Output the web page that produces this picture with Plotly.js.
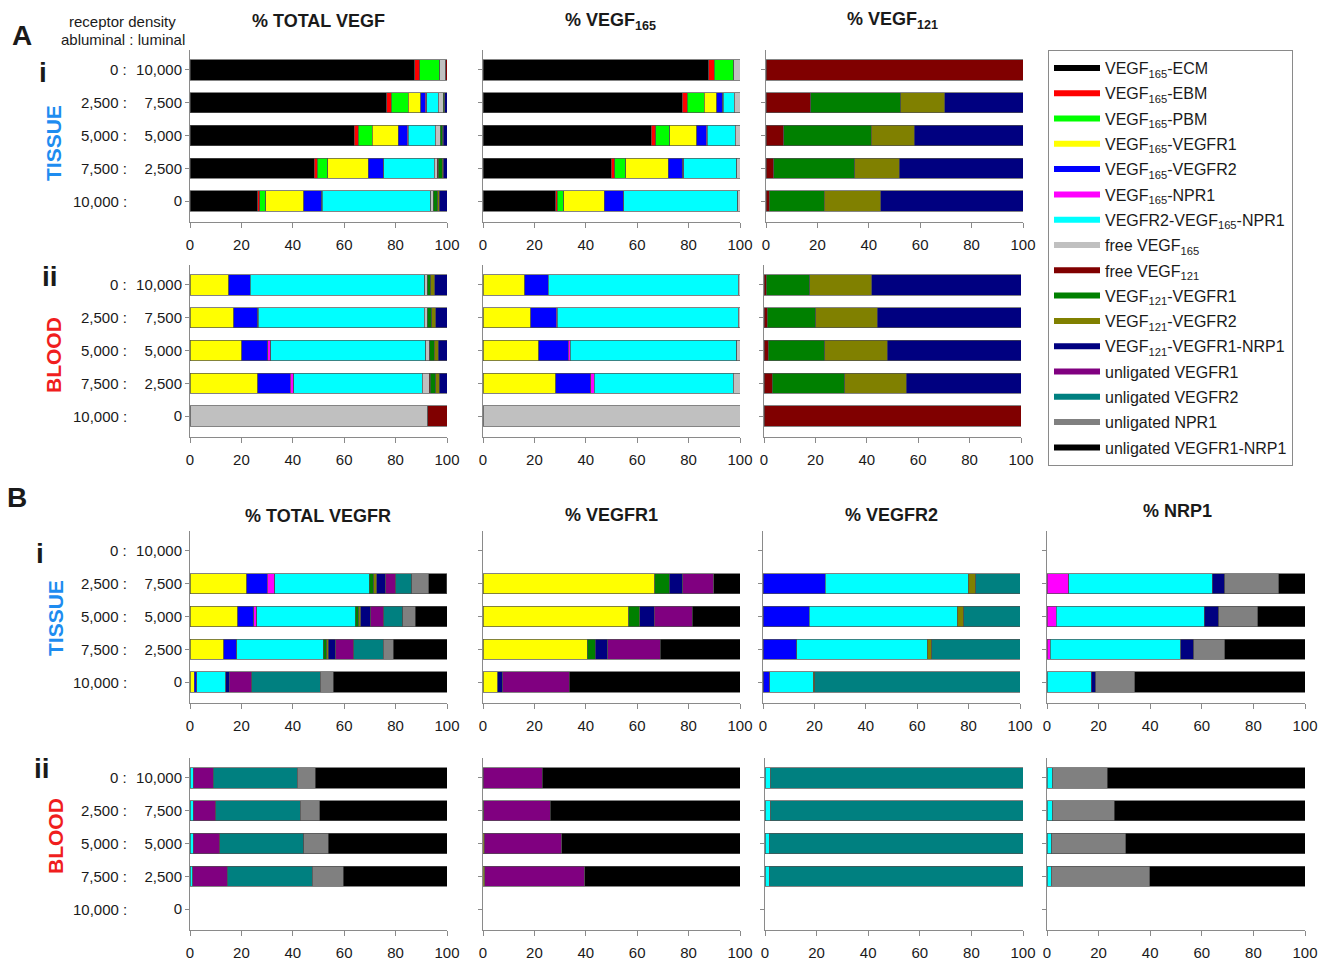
<!DOCTYPE html>
<html><head><meta charset="utf-8">
<script src="https://cdn.plot.ly/plotly-3.0.1.min.js"></script>
<style>html,body{margin:0;padding:0;background:#fff}#chart{width:1331px;height:963px}</style>
</head><body><div id="chart"></div>
<script>
// ---------- categories / tick labels ----------
const CATS = ['0 : 10,000','2,500 : 7,500','5,000 : 5,000','7,500 : 2,500','10,000 : 0'];
const ABLUMINAL = ['0','2,500','5,000','7,500','10,000'];
const LUMINAL = ['10,000','7,500','5,000','2,500','0'];
const XTICKS = [0,20,40,60,80,100];

// ---------- components (legend order) ----------
const COMP_KEYS = ['ECM','EBM','PBM','R1','R2','NPR1','CX','F165','F121','R1_121','R2_121','RN_121','uR1','uR2','uNPR1','uRN'];
const COMP_NAMES = ['VEGF<sub>165</sub>-ECM','VEGF<sub>165</sub>-EBM','VEGF<sub>165</sub>-PBM','VEGF<sub>165</sub>-VEGFR1','VEGF<sub>165</sub>-VEGFR2','VEGF<sub>165</sub>-NPR1','VEGFR2-VEGF<sub>165</sub>-NPR1','free VEGF<sub>165</sub>','free VEGF<sub>121</sub>','VEGF<sub>121</sub>-VEGFR1','VEGF<sub>121</sub>-VEGFR2','VEGF<sub>121</sub>-VEGFR1-NRP1','unligated VEGFR1','unligated VEGFR2','unligated NPR1','unligated VEGFR1-NRP1'];
const COMP_COLORS = ['#000000','#ff0000','#00ff00','#ffff00','#0000ff','#ff00ff','#00ffff','#c0c0c0','#800000','#008000','#808000','#000080','#800080','#008080','#808080','#000000'];

// ---------- A-i TISSUE ----------
const aTisTotKeys = ['ECM','EBM','PBM','R1','R2','NPR1','CX','F165','F121','R1_121','R2_121','RN_121'];
const aTisTotVals = [
  [87.5,76.5,63.9,48.4,26.3],
  [1.9,1.9,1.6,1.2,0.9],
  [7.8,6.5,5.4,4.0,2.2],
  [0,4.8,10.2,15.7,14.9],
  [0,1.9,3.5,5.8,6.9],
  [0,0.6,0.4,0.3,0.2],
  [0,4.3,10.5,19.7,42.3],
  [2.4,2.1,1.9,1.2,0.9],
  [0.4,0,0,0.2,0.1],
  [0,0.3,0.9,1.7,1.7],
  [0,0.2,0.2,0.4,0.6],
  [0,0.9,1.5,1.4,3.0]
];
const aTis165Keys = ['ECM','EBM','PBM','R1','R2','NPR1','CX','F165'];
const aTis165Vals = [
  [87.8,77.6,65.5,49.9,28.3],
  [2.1,1.8,1.7,1.3,0.6],
  [7.7,6.6,5.4,4.3,2.6],
  [0,4.9,10.5,16.5,15.6],
  [0,2.3,3.8,5.8,7.4],
  [0,0.3,0.4,0.3,0.2],
  [0,4.2,10.9,20.6,44.5],
  [2.4,2.3,1.8,1.3,0.8]
];
const aTis121Keys = ['F121','R1_121','R2_121','RN_121'];
const aTis121Vals = [
  [100,17.5,7.0,3.1,1.3],
  [0,35.0,33.9,31.5,21.4],
  [0,17.1,16.7,17.3,22.0],
  [0,30.4,42.4,48.1,55.3]
];
// ---------- A-ii BLOOD ----------
const aBldTotKeys = ['R1','R2','NPR1','CX','F165','F121','R1_121','R2_121','RN_121'];
const aBldTotVals = [
  [15.0,17.0,20.2,26.3,0],
  [8.4,9.3,10.0,12.7,0],
  [0,0.3,1.2,1.3,0],
  [68.0,64.6,60.3,50.1,0],
  [0.9,1.2,1.3,2.7,92.5],
  [0,0,0.2,0.3,7.5],
  [1.3,1.7,1.9,2.2,0],
  [1.7,1.6,1.4,1.4,0],
  [4.7,4.3,3.5,3.0,0]
];
const aBld165Keys = ['R1','R2','NPR1','CX','F165'];
const aBld165Vals = [
  [16.3,18.5,21.7,28.3,0],
  [9.1,10.0,11.4,13.6,0],
  [0,0.3,0.8,1.3,0],
  [74.0,70.5,64.9,54.1,0],
  [0.6,0.7,1.2,2.7,100]
];
const aBld121Keys = ['F121','R1_121','R2_121','RN_121'];
const aBld121Vals = [
  [0.9,1.3,1.7,3.2,100],
  [16.9,18.8,21.9,28.3,0],
  [24.1,24.0,24.4,23.9,0],
  [58.1,55.9,52.0,44.6,0]
];
// ---------- B-i TISSUE ----------
const bTisTotKeys = ['R1','R2','NPR1','CX','R1_121','R2_121','RN_121','uR1','uR2','uNPR1','uRN'];
const bTisTotVals = [
  [0,22.0,18.5,13.2,1.6],
  [0,8.0,6.4,4.7,1.0],
  [0,3.0,1.0,0.3,0],
  [0,36.7,38.4,33.7,11.3],
  [0,1.7,1.3,1.3,0],
  [0,1.3,0.9,0.6,0],
  [0,3.5,3.8,3.0,1.4],
  [0,3.9,5.1,7.0,8.8],
  [0,6.1,7.4,11.4,26.5],
  [0,6.7,4.8,3.9,5.2],
  [0,7.0,12.5,20.9,44.2]
];
const bTisR1Keys = ['R1','R1_121','RN_121','uR1','uRN'];
const bTisR1Vals = [
  [0,66.8,56.8,40.6,5.8],
  [0,5.6,4.2,3.1,0],
  [0,5.4,5.6,4.9,1.9],
  [0,11.9,14.9,20.4,25.9],
  [0,10.3,18.5,31.0,66.4]
];
const bTisR2Keys = ['R2','CX','R2_121','uR2'];
const bTisR2Vals = [
  [0,24.3,17.9,13.2,2.6],
  [0,55.5,57.7,50.7,16.9],
  [0,2.9,2.5,1.8,0.6],
  [0,17.3,21.9,34.3,79.9]
];
const bTisNKeys = ['NPR1','CX','RN_121','uNPR1','uRN'];
const bTisNVals = [
  [0,8.4,3.5,1.3,0],
  [0,55.6,57.5,50.5,17.2],
  [0,4.9,5.6,5.0,1.6],
  [0,20.9,15.0,12.1,15.2],
  [0,10.2,18.4,31.1,66.0]
];
// ---------- B-ii BLOOD ----------
const bBldTotKeys = ['CX','uR1','uR2','uNPR1','uRN'];
const bBldTotVals = [
  [1.2,1.2,1.2,1.1,0],
  [7.9,8.9,10.3,13.4,0],
  [32.7,32.7,32.7,33.0,0],
  [7.0,7.6,9.5,12.2,0],
  [51.2,49.6,46.3,40.3,0]
];
const bBldR1Keys = ['R1','uR1','uRN'];
const bBldR1Vals = [
  [0,0.3,0.4,0.6,0],
  [23.1,25.8,30.3,38.9,0],
  [76.9,73.9,69.3,60.5,0]
];
const bBldR2Keys = ['CX','uR2'];
const bBldR2Vals = [
  [2.2,2.2,1.9,1.8,0],
  [97.8,97.8,98.1,98.2,0]
];
const bBldNKeys = ['CX','uNPR1','uRN'];
const bBldNVals = [
  [2.2,2.2,1.8,1.6,0],
  [21.2,23.9,28.8,38.2,0],
  [76.6,73.9,69.4,60.2,0]
];

// ---------- layout helpers ----------
const W = 1331, H = 963;
const FONT = 'Liberation Sans, Arial, sans-serif';
const px = v => v / W;
const py = v => 1 - v / H;

const subplots = [
  {keys:aTisTotKeys, vals:aTisTotVals, xd:[190,447], yd:[222,50], lab:true},
  {keys:aTis165Keys, vals:aTis165Vals, xd:[483,740], yd:[222,50]},
  {keys:aTis121Keys, vals:aTis121Vals, xd:[766,1023], yd:[222,50]},
  {keys:aBldTotKeys, vals:aBldTotVals, xd:[190,447], yd:[437,265], lab:true},
  {keys:aBld165Keys, vals:aBld165Vals, xd:[483,740], yd:[437,265]},
  {keys:aBld121Keys, vals:aBld121Vals, xd:[764,1021], yd:[437,265]},
  {keys:bTisTotKeys, vals:bTisTotVals, xd:[190,447], yd:[703,531], lab:true},
  {keys:bTisR1Keys, vals:bTisR1Vals, xd:[483,740], yd:[703,531]},
  {keys:bTisR2Keys, vals:bTisR2Vals, xd:[763,1020], yd:[703,531]},
  {keys:bTisNKeys, vals:bTisNVals, xd:[1047,1305], yd:[703,531]},
  {keys:bBldTotKeys, vals:bBldTotVals, xd:[190,447], yd:[930,758], lab:true},
  {keys:bBldR1Keys, vals:bBldR1Vals, xd:[483,740], yd:[930,758]},
  {keys:bBldR2Keys, vals:bBldR2Vals, xd:[765,1023], yd:[930,758]},
  {keys:bBldNKeys, vals:bBldNVals, xd:[1047,1305], yd:[930,758]}
];

const traces = [];
const layout = {
  width: W, height: H,
  margin: {l:0, r:0, t:0, b:0},
  paper_bgcolor: '#fff', plot_bgcolor: '#fff',
  font: {family: FONT, size: 15, color: '#1a1a1a'},
  barmode: 'stack', bargap: 0.38,
  showlegend: true,
  legend: {x: px(1048), y: py(50), xanchor: 'left', yanchor: 'top',
           bordercolor: '#8a8a8a', borderwidth: 1, bgcolor: '#fff',
           font: {family: FONT, size: 16, color: '#1a1a1a'}, itemwidth: 46,
           traceorder: 'grouped', tracegroupgap: 1.5},
  annotations: []
};

subplots.forEach((sp, i) => {
  const n = i + 1;
  const xa = n === 1 ? 'x' : 'x' + n;
  const ya = n === 1 ? 'y' : 'y' + n;
  sp.keys.forEach((k, j) => {
    const ci = COMP_KEYS.indexOf(k);
    traces.push({
      type: 'bar', orientation: 'h',
      y: CATS, x: sp.vals[j].map(v => v === 0 ? null : v),
      xaxis: xa, yaxis: ya, showlegend: false, legendgroup: 'g' + ci,
      marker: {color: COMP_COLORS[ci], line: {color: '#505050', width: 0.7}},
      hoverinfo: 'skip'
    });
  });
  layout['xaxis' + (n === 1 ? '' : n)] = {
    domain: [px(sp.xd[0]), px(sp.xd[1])], anchor: ya, range: [0, 100],
    tickmode: 'array', tickvals: XTICKS, ticks: 'outside', ticklen: 5, tickcolor: '#8a8a8a',
    showline: true, linecolor: '#8a8a8a', linewidth: 1, showgrid: false, zeroline: false,
    tickfont: {family: FONT, size: 15, color: '#1a1a1a'}, ticklabelstandoff: 4, fixedrange: true
  };
  layout['yaxis' + (n === 1 ? '' : n)] = {
    domain: [py(sp.yd[0]), py(sp.yd[1])], anchor: xa, type: 'category',
    categoryorder: 'array', categoryarray: CATS, range: [4.64, -0.61],
    tickmode: 'array', tickvals: CATS, ticktext: LUMINAL, showticklabels: !!sp.lab,
    ticks: 'outside', ticklen: 4, tickcolor: '#8a8a8a',
    showline: true, linecolor: '#8a8a8a', linewidth: 1, showgrid: false, zeroline: false,
    tickfont: {family: FONT, size: 15, color: '#1a1a1a'}, fixedrange: true
  };
  if (sp.lab) {
    CATS.forEach((c, j) => {
      layout.annotations.push({xref: 'paper', yref: ya, x: px(129), y: c, xanchor: 'right', yanchor: 'middle',
        text: ABLUMINAL[j] + ' :', showarrow: false, font: {family: FONT, size: 15, color: '#1a1a1a'}});
    });
  }
});

// legend entries (line symbols like the original)
COMP_KEYS.forEach((k, ci) => {
  traces.push({type: 'scatter', mode: 'lines', x: [null], y: [null], xaxis: 'x', yaxis: 'y',
    name: COMP_NAMES[ci], legendgroup: 'g' + ci, legendrank: ci + 1,
    line: {color: COMP_COLORS[ci], width: 6}, showlegend: true, hoverinfo: 'skip'});
});

// text labels
function ann(x, y, text, size, opts) {
  layout.annotations.push(Object.assign({xref: 'paper', yref: 'paper', x: px(x), y: py(y),
    xanchor: 'center', yanchor: 'middle', text: text, showarrow: false,
    font: {family: FONT, size: size, color: '#1a1a1a'}}, opts || {}));
}
ann(22, 35, '<b>A</b>', 28);
ann(17, 498, '<b>B</b>', 28);
ann(122, 21, 'receptor density', 15);
ann(123, 39, 'abluminal : luminal', 15);
ann(43, 73, '<b>i</b>', 28);
ann(50, 276, '<b>ii</b>', 28);
ann(40, 553, '<b>i</b>', 28);
ann(42, 768, '<b>ii</b>', 28);
ann(53, 143, '<b>TISSUE</b>', 21, {textangle: -90, font: {family: FONT, size: 21, color: '#1e8cf0'}});
ann(53, 355, '<b>BLOOD</b>', 21, {textangle: -90, font: {family: FONT, size: 21, color: '#f01e1e'}});
ann(55, 618, '<b>TISSUE</b>', 21, {textangle: -90, font: {family: FONT, size: 21, color: '#1e8cf0'}});
ann(55, 836, '<b>BLOOD</b>', 21, {textangle: -90, font: {family: FONT, size: 21, color: '#f01e1e'}});
ann(318, 21, '<b>% TOTAL VEGF</b>', 18);
ann(610, 22, '<b>% VEGF<sub>165</sub></b>', 18);
ann(892, 20, '<b>% VEGF<sub>121</sub></b>', 18);
ann(318, 516, '<b>% TOTAL VEGFR</b>', 18);
ann(611, 515, '<b>% VEGFR1</b>', 18);
ann(891, 515, '<b>% VEGFR2</b>', 18);
ann(1177, 511, '<b>% NRP1</b>', 18);

Plotly.newPlot('chart', traces, layout, {staticPlot: true, displayModeBar: false});
</script>
</body></html>
